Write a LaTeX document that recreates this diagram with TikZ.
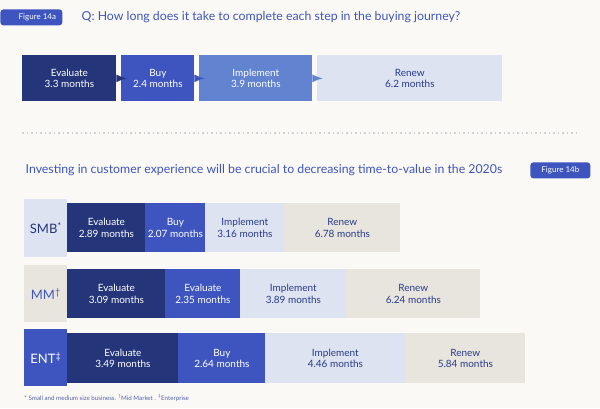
\documentclass[tikz,border=0pt]{standalone}
\usepackage{fontspec}
\setmainfont{Lato}
\usetikzlibrary{positioning}
\definecolor{navy}{RGB}{36,53,122}
\definecolor{royal}{RGB}{62,85,192}
\definecolor{sky}{RGB}{97,131,208}
\definecolor{pale}{RGB}{221,227,241}
\definecolor{sand}{RGB}{232,229,223}
\definecolor{paper}{RGB}{250,249,245}
\tikzset{every picture/.style={line width=0.75pt}}
\tikzset{
  stepbar/.style={draw=none,inner sep=0pt,anchor=north west,align=center,font=\fontsize{10}{11.5}\selectfont},
  darkbar/.style={stepbar,fill=navy,text=white},
  midbar/.style={stepbar,fill=royal,text=white},
  lightbar/.style={stepbar,fill=sky,text=white},
  palebar/.style={stepbar,fill=pale,text=navy!80!royal},
  sandbar/.style={stepbar,fill=sand,text=navy!80!royal},
  tag/.style={fill=royal,text=white,rounded corners=3pt,inner sep=0pt,font=\fontsize{8}{9}\selectfont},
  flow/.style={-latex,royal,line width=2.5pt},
}

\begin{document}
\begin{tikzpicture}[x=1pt,y=1pt,yscale=-1,xscale=1]
		\fill[paper] (0,0) rectangle (600,408);
		\useasboundingbox (0,0) rectangle (600,408);

		% Figure 14a
		\node[tag,minimum width=62pt,minimum height=16pt,anchor=north west] (taga) at (0,9) {\hspace*{12pt}Figure 14a};
		\node[anchor=west,text=royal,font=\fontsize{12.3}{14}\selectfont] (question) at (78,17) {Q: How long does it take to complete each step in the buying journey?};

		% top journey
		\node[darkbar,minimum width=94pt,minimum height=46pt] (evaluate) at (22,55) {Evaluate\\3.3 months};
		\node[midbar,minimum width=73pt,minimum height=46pt] (buy) at (121,55) {Buy\\2.4 months};
		\node[lightbar,minimum width=113pt,minimum height=46pt] (implement) at (199,55) {Implement\\3.9 months};
		\node[palebar,minimum width=185pt,minimum height=46pt] (renew) at (317,55) {Renew\\6.2 months};
		\draw[flow,navy] (evaluate.east) -- ++(10,0);
		\draw[flow] (buy.east) -- ++(10,0);
		\draw[flow,sky] (implement.east) -- ++(10,0);

		% dotted separator
		\draw[black!18,line width=1.5pt,dash pattern=on 1.5pt off 3pt] (22,133) -- (578,133);

		% Figure 14b
		\node[anchor=west,text=royal,font=\fontsize{12.3}{14}\selectfont] (heading) at (22,170) {Investing in customer experience will be crucial to decreasing time-to-value in the 2020s};
		\node[tag,minimum width=60pt,minimum height=16pt,anchor=north west] (tagb) at (530,162) {Figure 14b};

		% SMB
		\node[stepbar,fill=pale,text=navy,minimum width=43pt,minimum height=58pt,font=\fontsize{13}{15}\selectfont] (smb) at (24,199) {SMB\textsuperscript{*}};
		\node[darkbar,minimum width=78pt,minimum height=49pt] (smbeval) at (67,203) {Evaluate\\2.89 months};
		\node[midbar,minimum width=60pt,minimum height=49pt] (smbbuy) at (145,203) {Buy\\2.07 months};
		\node[palebar,minimum width=79pt,minimum height=49pt] (smbimpl) at (205,203) {Implement\\3.16 months};
		\node[sandbar,minimum width=116pt,minimum height=49pt] (smbrenew) at (284,203) {Renew\\6.78 months};

		% MM
		\node[stepbar,fill=sand,text=royal,minimum width=43pt,minimum height=57pt,font=\fontsize{13}{15}\selectfont] (mm) at (24,265) {MM\textsuperscript{\dag}};
		\node[darkbar,minimum width=98pt,minimum height=49pt] (mmeval) at (67,269) {Evaluate\\3.09 months};
		\node[midbar,minimum width=75pt,minimum height=49pt] (mmbuy) at (165,269) {Evaluate\\2.35 months};
		\node[palebar,minimum width=106pt,minimum height=49pt] (mmimpl) at (240,269) {Implement\\3.89 months};
		\node[sandbar,minimum width=134pt,minimum height=49pt] (mmrenew) at (346,269) {Renew\\6.24 months};

		% ENT
		\node[stepbar,fill=royal,text=white,minimum width=43pt,minimum height=57pt,font=\fontsize{13}{15}\selectfont] (ent) at (24,329) {ENT\textsuperscript{\ddag}};
		\node[darkbar,minimum width=111pt,minimum height=50pt] (enteval) at (67,333) {Evaluate\\3.49 months};
		\node[midbar,minimum width=87pt,minimum height=50pt] (entbuy) at (178,333) {Buy\\2.64 months};
		\node[palebar,minimum width=140pt,minimum height=50pt] (entimpl) at (265,333) {Implement\\4.46 months};
		\node[sandbar,minimum width=120pt,minimum height=50pt] (entrenew) at (405,333) {Renew\\5.84 months};

		% footnote
		\node[anchor=west,text=royal!70!gray,font=\fontsize{6.2}{7}\selectfont,inner sep=0pt] (footnote) at (24,398) {* Small and medium size business. \textsuperscript{\dag}Mid Market . \textsuperscript{\ddag}Enterprise};

	\end{tikzpicture}
\end{document}
